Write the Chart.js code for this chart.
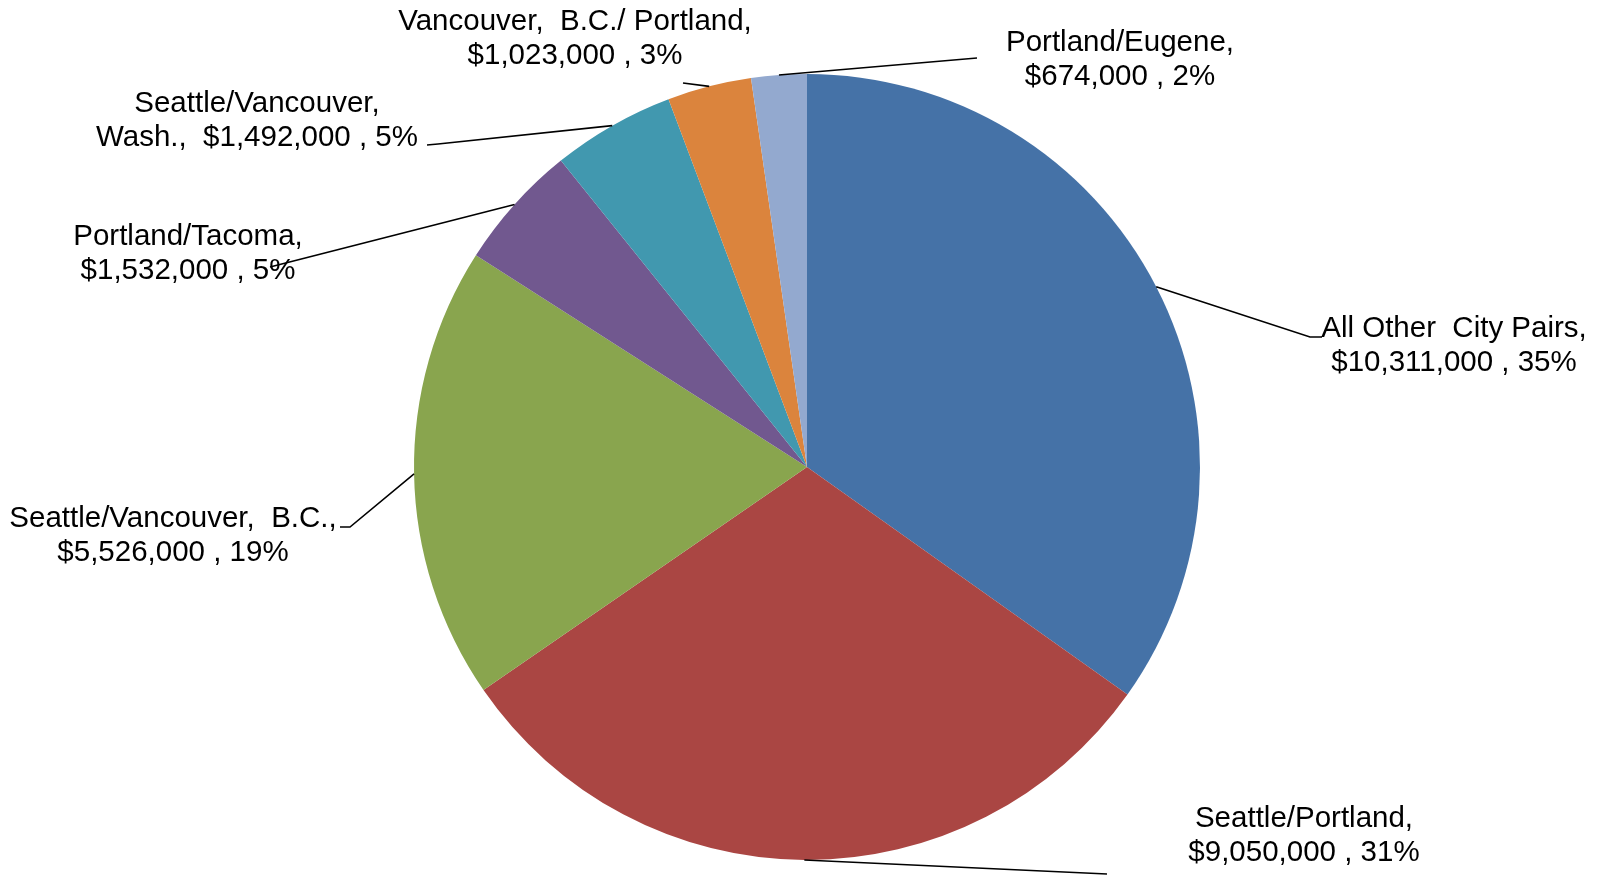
<!DOCTYPE html>
<html>
<head>
<meta charset="utf-8">
<script src="https://cdn.jsdelivr.net/npm/chart.js@4.4.1/dist/chart.umd.min.js"></script>
<style>
  html, body { margin: 0; padding: 0; background: #fff; }
  #wrap { width: 1601px; height: 875px; position: relative; }
</style>
</head>
<body>
<div id="wrap"><canvas id="chart"></canvas></div>
<script>
// city pairs, in the order the slices run clockwise from 12 o'clock
const categories = [
    "All Other  City Pairs",
    "Seattle/Portland",
    "Seattle/Vancouver,  B.C.",
    "Portland/Tacoma",
    "Seattle/Vancouver,\nWash.",
    "Vancouver,  B.C./ Portland",
    "Portland/Eugene"
]
const revenue = [10311000, 9050000, 5526000, 1532000, 1492000, 1023000, 674000]
const sliceColors = ["#4572A7", "#AA4643", "#89A54E", "#71588F", "#4198AF", "#DB843D", "#93A9CF"]

// where each data label sits (text centre x, first baseline y) and the
// label end of its leader line; the slice end comes from the arc itself
const labelLayout = [
    { x: 1454, y: 337, lead: [[1310, 337], [1322, 337]] },
    { x: 1304, y: 827, lead: [[1107, 874]] },
    { x: 173,  y: 527, lead: [[350, 527], [340, 527]] },
    { x: 188,  y: 245, lead: [[270, 267]] },
    { x: 257,  y: 112, lead: [[438, 144], [427, 145]] },
    { x: 575,  y: 30,  lead: [[683, 83]] },
    { x: 1120, y: 51,  lead: [[977, 58]] }
]

const total = revenue.reduce((a, b) => a + b, 0)
const money = v => "$" + v.toLocaleString("en-US")

function labelLines(i){
    const parts = categories[i].split("\n")
    const pct = Math.round(revenue[i] / total * 100)
    const valueText = money(revenue[i]) + " , " + pct + "%"
    if (parts.length > 1){
        // last name part shares the line with the value
        return [...parts.slice(0, -1), parts[parts.length - 1] + ",  " + valueText]
    }
    return [parts[0] + ",", valueText]
}

const pieLabels = {
    id: "pieLabels",
    afterDatasetsDraw(chart){
        const ctx = chart.ctx
        const arcs = chart.getDatasetMeta(0).data
        ctx.save()
        ctx.strokeStyle = "#000"
        ctx.lineWidth = 1.6
        arcs.forEach((arc, i) => {
            const { x, y, startAngle, endAngle, outerRadius } = arc.getProps(["x", "y", "startAngle", "endAngle", "outerRadius"], true)
            const mid = (startAngle + endAngle) / 2
            ctx.beginPath()
            ctx.moveTo(x + Math.cos(mid) * outerRadius, y + Math.sin(mid) * outerRadius)
            labelLayout[i].lead.forEach(p => ctx.lineTo(p[0], p[1]))
            ctx.stroke()
        })
        ctx.fillStyle = "#000"
        ctx.font = "29.5px 'Liberation Sans', Arial, sans-serif"
        ctx.textAlign = "center"
        ctx.textBaseline = "alphabetic"
        arcs.forEach((arc, i) => {
            const l = labelLayout[i]
            labelLines(i).forEach((t, k) => ctx.fillText(t, l.x, l.y + k * 34))
        })
        ctx.restore()
    }
}

new Chart(document.getElementById("chart"), {
    type: "pie",
    data: {
        labels: categories,
        datasets: [{
            data: revenue,
            backgroundColor: sliceColors,
            borderWidth: 0
        }]
    },
    options: {
        responsive: true,
        maintainAspectRatio: false,
        animation: false,
        layout: { padding: { left: 414, right: 401, top: 74, bottom: 15 } },
        plugins: {
            legend: { display: false },
            tooltip: { enabled: false }
        }
    },
    plugins: [pieLabels]
})
</script>
</body>
</html>
